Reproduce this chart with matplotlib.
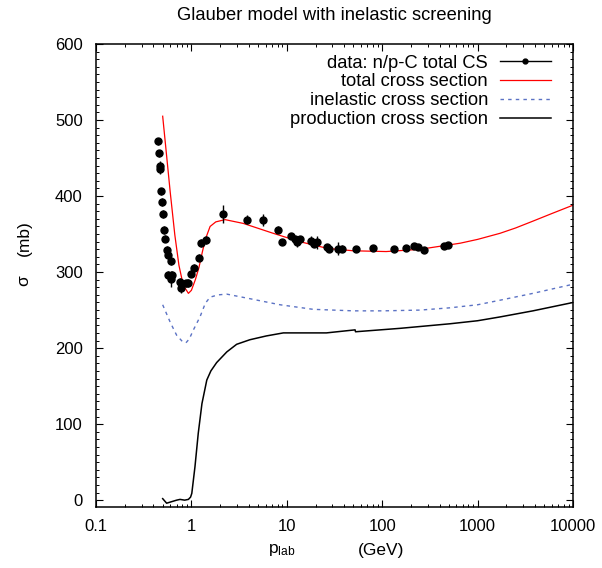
import matplotlib
matplotlib.use("Agg")
import matplotlib.pyplot as plt
from matplotlib.lines import Line2D
import numpy as np

plt.rcParams['font.family'] = ['Liberation Sans', 'DejaVu Sans']
plt.rcParams['mathtext.fontset'] = 'custom'
plt.rcParams['mathtext.rm'] = 'Liberation Sans'

# ---- data: n/p-C total cross section ----
p_data = [0.45, 0.458, 0.466, 0.47, 0.48, 0.49, 0.50, 0.52, 0.53, 0.55, 0.57, 0.61,
          0.57, 0.63, 0.61, 0.76, 0.78, 0.87, 0.93, 0.98, 1.07, 1.21, 1.25, 1.42,
          2.14, 3.8, 5.68, 8.1, 8.97, 11.0, 12.1, 12.8, 13.9, 18.0, 19.2, 20.8,
          26.5, 27.8, 34.6, 37.5, 53.0, 79.8, 133.0, 178.0, 215.0, 237.0, 274.0,
          443.0, 492.0]
sig_data = [472, 456, 440, 435, 406, 392, 376, 355, 344, 329, 322, 314,
            296, 296, 291, 287, 279, 285, 286, 298, 306, 319, 338, 342,
            376, 369, 369, 356, 340, 347, 344, 340, 343, 341, 337, 339,
            333, 331, 331, 331, 330, 332, 330, 332, 334, 333, 329,
            334, 336]
err_data = [5, 5, 6, 6, 5, 5, 5, 5, 5, 5, 5, 5,
            5, 5, 10, 5, 6, 5, 5, 5, 5, 5, 5, 5,
            12, 6, 8, 4, 4, 4, 4, 7, 4, 6, 4, 8,
            4, 4, 8, 4, 4, 4, 4, 4, 4, 4, 4,
            4, 4]

# ---- total cross section (model) ----
p_tot = [0.5, 0.6, 0.67, 0.74, 0.82, 0.93, 1.0, 1.1, 1.2, 1.3, 1.4, 1.57, 1.8,
         2.25, 3.5, 7.2, 13.7, 27, 50, 110, 250, 658, 1000, 1718, 2500, 3800,
         6000, 10000]
sig_tot = [505, 405, 349, 309, 283, 272, 276, 290, 306, 326, 343, 360, 366,
           369, 364, 351, 340, 331, 328, 327, 330, 338, 343, 351, 358, 367,
           377, 388]

# ---- inelastic cross section (model) ----
p_inel = [0.5, 0.6, 0.7, 0.8, 0.877, 0.95, 1.05, 1.23, 1.4, 1.57, 1.9, 2.35,
          4.1, 8.5, 18.9, 50, 102, 250, 513, 1000, 1718, 3800, 10000]
sig_inel = [257, 234, 217, 209, 207, 212, 224, 241, 259, 267, 270, 271,
            265, 257, 251, 249, 249, 250, 253, 257, 263, 272, 284]

# ---- production cross section (model) ----
p_prod = [0.5, 0.55, 0.62, 0.7, 0.76, 0.85, 0.93, 0.98, 1.01, 1.09, 1.18, 1.29,
          1.45, 1.6, 1.84, 2.35, 2.98, 4.1, 6.1, 9.2, 26, 52, 52.5, 154, 513,
          1000, 1718, 3800, 10000]
sig_prod = [2, -4, -2, 0, 1, 0, 1, 4, 9, 44, 88, 127,
            158, 170, 181, 195, 205, 211, 216, 220, 220, 224, 221.5, 226, 232,
            236, 241, 249, 260]

labels = ["data: n/p-C total CS", "total cross section",
          "inelastic cross section", "production cross section"]

RED = '#ff0000'
BLUE = '#5b72c4'
DASH = (0, (2.5, 3))

fig = plt.figure(figsize=(6.02, 5.68), dpi=100)
ax = fig.add_axes([96/602, 1-507/568, (573-96)/602, (507-44)/568])

ax.plot(p_tot, sig_tot, color=RED, lw=0.9)
ax.plot(p_inel, sig_inel, color=BLUE, lw=1.0, ls=DASH)
ax.plot(p_prod, sig_prod, color='black', lw=1.1)
ax.errorbar(p_data, sig_data, yerr=err_data, fmt='o', color='black',
            ms=5, elinewidth=1.0, capsize=0)

ax.set_xscale('log')
ax.set_xlim(0.1, 10000)
ax.set_ylim(-9, 600)
ax.set_xticks([0.1, 1, 10, 100, 1000, 10000])
ax.set_xticklabels(['0.1', '1', '10', '100', '1000', '10000'])
ax.set_yticks([0, 100, 200, 300, 400, 500, 600])
ax.yaxis.set_minor_locator(matplotlib.ticker.MultipleLocator(10))
ax.xaxis.set_minor_locator(matplotlib.ticker.LogLocator(base=10, subs=np.arange(2, 10), numticks=20))
ax.xaxis.set_minor_formatter(matplotlib.ticker.NullFormatter())
ax.tick_params(which='both', direction='in', top=True, right=True, labelsize=12)
ax.tick_params(which='major', length=5, width=0.8)
ax.tick_params(which='minor', length=2.5, width=0.7)
ax.tick_params(axis='y', which='major', pad=9.5)
ax.tick_params(axis='x', which='major', pad=8.5)
for s in ax.spines.values():
    s.set_linewidth(1.1)

handles = [Line2D([], [], color='black', lw=1.0, marker='o', ms=3.5),
           Line2D([], [], color=RED, lw=0.9),
           Line2D([], [], color=BLUE, lw=1.0, ls=DASH),
           Line2D([], [], color='black', lw=1.1)]
leg = ax.legend(handles, labels, loc='upper right', bbox_to_anchor=(0.953, 0.977),
                frameon=False, markerfirst=False, fontsize=13.25,
                handlelength=2.75, labelspacing=0.1, handletextpad=0.65,
                borderaxespad=0.0, borderpad=0.0)

fig.text(334/602, 1-16/568, "Glauber model with inelastic screening",
         ha='center', va='center', fontsize=13.25)
fig.text(24/602, 1-281/568, "σ", rotation=90,
         ha='center', va='center', fontsize=12.5)
fig.text(24/602, 1-238/568, "(mb)", rotation=90,
         ha='center', va='center', fontsize=12.5)
fig.text(282/602, 1-550/568, r"$\mathregular{p_{lab}}$",
         ha='center', va='center', fontsize=12.5)
fig.text(381/602, 1-550/568, "(GeV)",
         ha='center', va='center', fontsize=12.5)

fig.savefig("out.png", dpi=100)
